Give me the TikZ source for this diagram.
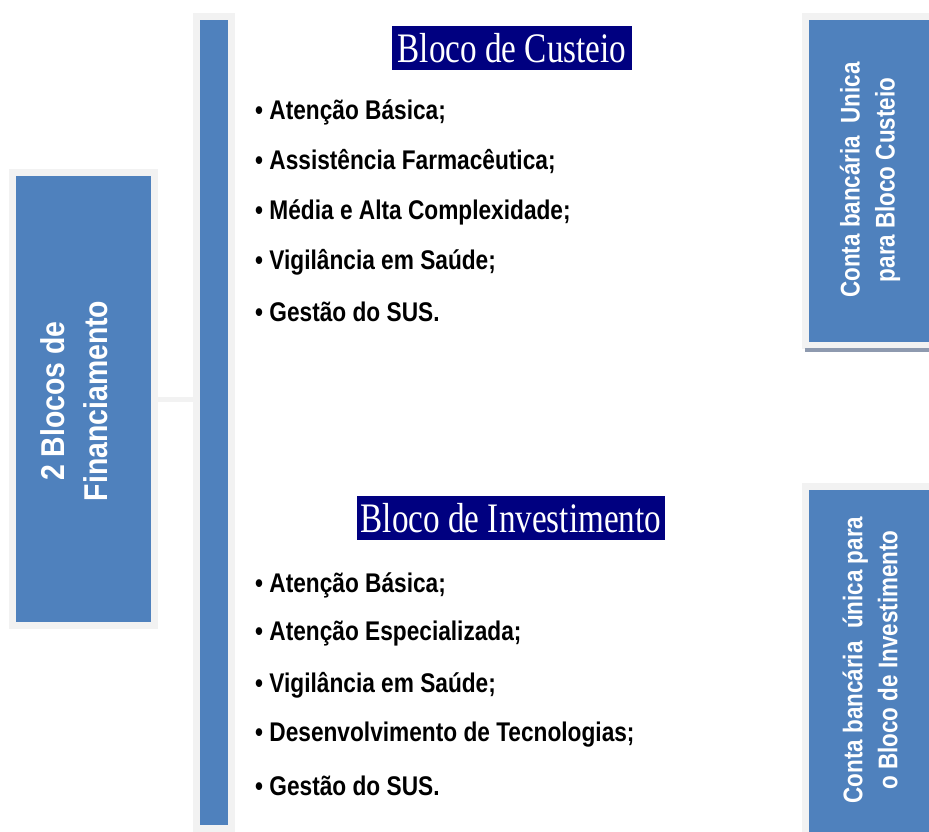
\documentclass[tikz,border=0pt]{standalone}
\usepackage{fontspec}
\setmainfont{Liberation Sans}
\newfontfamily\titlefont[FakeStretch=0.79]{Liberation Serif}
\newfontfamily\itemfont[FakeStretch=0.84]{Liberation Sans}
\newfontfamily\boxfont[FakeStretch=0.83]{Liberation Sans}
\newfontfamily\leftfont[FakeStretch=0.86]{Liberation Sans}
\definecolor{boxblue}{HTML}{4F81BD}
\definecolor{framegrey}{HTML}{F2F2F2}
\definecolor{navytitle}{HTML}{000080}
\definecolor{shadowgrey}{HTML}{8E9AAF}
\tikzset{
  bluebox/.style={fill=boxblue, draw=framegrey, line width=7pt, inner sep=0pt},
  titlebox/.style={fill=navytitle, text=white, inner sep=0pt, minimum height=44pt,
    font=\titlefont\fontsize{42}{44}\selectfont},
  listitem/.style={anchor=west, inner sep=0pt, text=black,
    font=\itemfont\bfseries\fontsize{27}{29}\selectfont},
  boxtext/.style={text=white, rotate=90, align=center, inner sep=0pt},
  linkline/.style={draw=framegrey, line width=5pt}
}
\begin{document}
\begin{tikzpicture}[x=1pt,y=-1pt]
\clip (0,0) rectangle (929,832);
\fill[white] (0,0) rectangle (929,832);
% main boxes
\node[bluebox, minimum width=142pt, minimum height=453pt] (left) at (83.5,399) {};
\node[bluebox, minimum width=35pt, minimum height=812pt] (bar) at (214,422.5) {};
\node[bluebox, minimum width=143pt, minimum height=329pt] (rtop) at (877,181) {};
\node[bluebox, minimum width=143pt, minimum height=367pt] (rbot) at (877,670) {};
\coordinate (shA) at (805,350);
\coordinate (shB) at (929,350);
\draw[shadowgrey, line width=4pt] (shA) -- (shB);
% connector
\draw[linkline] (left.east) -- (left.east -| bar.west);
% box texts
\node[boxtext, font=\leftfont\bfseries\fontsize{33}{43}\selectfont] (lefttext) at (74,401)
  {2 Blocos de\\Financiamento};
\node[boxtext, font=\boxfont\bfseries\fontsize{27}{35}\selectfont] (rtoptext) at (870,180)
  {Conta bancária~~Unica\\para Bloco Custeio};
\node[boxtext, font=\boxfont\bfseries\fontsize{27}{35}\selectfont] (rbottext) at (870,660)
  {Conta bancária~~única para\\o Bloco de Investimento};
% titles
\node[titlebox, minimum width=240pt] (custeio) at (512,48) {Bloco de Custeio};
\node[titlebox, minimum width=308pt] (invest) at (511,518) {Bloco de Investimento};
% lists
\node[listitem] (c1) at (255,112) {• Atenção Básica;};
\node[listitem] (c2) at (255,162) {• Assistência Farmacêutica;};
\node[listitem] (c3) at (255,212) {• Média e Alta Complexidade;};
\node[listitem] (c4) at (255,262) {• Vigilância em Saúde;};
\node[listitem] (c5) at (255,312) {• Gestão do SUS.};
\node[listitem] (i1) at (255,585) {• Atenção Básica;};
\node[listitem] (i2) at (255,634) {• Atenção Especializada;};
\node[listitem] (i3) at (255,685) {• Vigilância em Saúde;};
\node[listitem] (i4) at (255,735) {• Desenvolvimento de Tecnologias;};
\node[listitem] (i5) at (255,786) {• Gestão do SUS.};
\end{tikzpicture}
\end{document}
